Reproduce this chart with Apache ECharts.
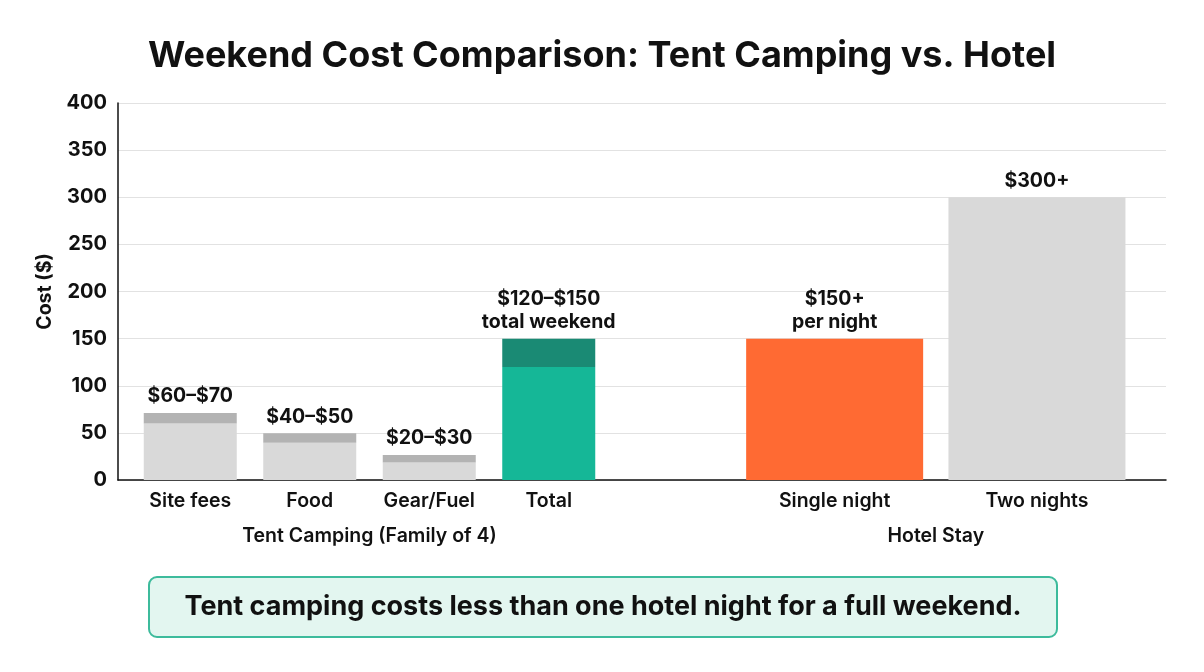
<!DOCTYPE html>
<html>
<head>
<meta charset="utf-8">
<script src="https://cdn.jsdelivr.net/npm/echarts@6/dist/echarts.min.js"></script>
<style>
  html, body { margin: 0; padding: 0; background: #fff; }
  #main { width: 1204px; height: 672px; }
</style>
</head>
<body>
<div id="main"></div>
<script>
// camping pieces: low end of the range and top of the bar
var campCategories = ["Site fees", "Food", "Gear/Fuel", "Total"];
var campLow = [60, 39.5, 18.5, 120];
var campHigh = [71, 49.5, 26.5, 150];
var campLabels = ["$60–$70", "$40–$50", "$20–$30", "$120–$150\ntotal weekend"];

var hotelCategories = ["Single night", "Two nights"];
var hotelValues = [150, 300];
var hotelLabels = ["$150+\nper night", "$300+"];

var yTicks = [0, 50, 100, 150, 200, 250, 300, 350, 400];

var FONT = "Inter, 'Noto Sans', sans-serif";
var gray = "#d9d9d9", grayDark = "#b3b3b3";
var teal = "#15b797", tealDark = "#1a8a74";
var orange = "#ff6a33";

var campRange = campHigh.map(function (v, i) { return v - campLow[i]; });

var chart = echarts.init(document.getElementById("main"));

var yHidden = {
  type: "value", min: 0, max: 400, interval: 50,
  axisLine: { show: false }, axisTick: { show: false },
  axisLabel: { show: false }, splitLine: { show: false }
};

var catLabel = { margin: 11, fontFamily: FONT, fontSize: 19.5, fontWeight: 600, color: "#111" };
var groupName = { fontFamily: FONT, fontSize: 19.5, fontWeight: 600, color: "#111" };
var barLabel = {
  show: true, position: "top", distance: 5,
  fontFamily: FONT, fontSize: 19.5, fontWeight: 700, color: "#111", lineHeight: 23
};

chart.setOption({
  animation: false,
  backgroundColor: "#fff",
  title: {
    text: "Weekend Cost Comparison: Tent Camping vs. Hotel",
    left: "center", top: 33,
    textStyle: { fontFamily: FONT, fontSize: 36, fontWeight: 700, color: "#111" }
  },
  grid: [
    { left: 118, right: 38, top: 103, bottom: 192 },
    { left: 130.5, width: 478, top: 103, bottom: 192 },
    { left: 733.5, width: 404.6, top: 103, bottom: 192 }
  ],
  xAxis: [
    {
      gridIndex: 0, type: "value", min: 0, max: 1,
      axisLine: { show: true, lineStyle: { color: "#111", width: 1.5 } },
      axisTick: { show: false }, axisLabel: { show: false }, splitLine: { show: false }
    },
    {
      gridIndex: 1, type: "category", data: campCategories,
      axisLine: { show: false }, axisTick: { show: false },
      axisLabel: catLabel,
      name: "Tent Camping (Family of 4)", nameLocation: "middle", nameGap: 46,
      nameTextStyle: groupName
    },
    {
      gridIndex: 2, type: "category", data: hotelCategories,
      axisLine: { show: false }, axisTick: { show: false },
      axisLabel: catLabel,
      name: "Hotel Stay", nameLocation: "middle", nameGap: 46,
      nameTextStyle: groupName
    }
  ],
  yAxis: [
    {
      gridIndex: 0, type: "value", min: yTicks[0], max: yTicks[yTicks.length - 1], interval: 50,
      name: "Cost ($)", nameLocation: "middle", nameRotate: 90, nameGap: 62,
      nameTextStyle: { fontFamily: FONT, fontSize: 19.5, fontWeight: 700, color: "#111" },
      axisLine: { show: true, lineStyle: { color: "#111", width: 1.5 } },
      axisTick: { show: false },
      axisLabel: { margin: 11, fontFamily: FONT, fontSize: 20, fontWeight: 700, color: "#111" },
      splitLine: { show: true, lineStyle: { color: "#e2e2e2", width: 1 } }
    },
    Object.assign({ gridIndex: 1 }, yHidden),
    Object.assign({ gridIndex: 2 }, yHidden)
  ],
  series: [
    {
      type: "bar", xAxisIndex: 1, yAxisIndex: 1, stack: "camp", barWidth: 93,
      data: campLow.map(function (v, i) {
        return { value: v, itemStyle: { color: i === 3 ? teal : gray } };
      })
    },
    {
      type: "bar", xAxisIndex: 1, yAxisIndex: 1, stack: "camp", barWidth: 93,
      data: campRange.map(function (v, i) {
        return { value: v, itemStyle: { color: i === 3 ? tealDark : grayDark } };
      }),
      label: Object.assign({
        formatter: function (p) { return campLabels[p.dataIndex]; }
      }, barLabel)
    },
    {
      type: "bar", xAxisIndex: 2, yAxisIndex: 2, barWidth: 177,
      data: hotelValues.map(function (v, i) {
        return { value: v, itemStyle: { color: i === 0 ? orange : gray } };
      }),
      label: Object.assign({
        formatter: function (p) { return hotelLabels[p.dataIndex]; }
      }, barLabel)
    }
  ],
  graphic: [
    {
      type: "group", left: 148, top: 576,
      children: [
        {
          type: "rect", shape: { x: 0, y: 0, width: 908, height: 60, r: 8 },
          style: { fill: "#e3f6f0", stroke: "#3dbb9c", lineWidth: 2 }
        },
        {
          type: "text", x: 454, y: 30,
          style: {
            text: "Tent camping costs less than one hotel night for a full weekend.",
            fontFamily: FONT, fontSize: 27, fontWeight: 700, fill: "#111",
            align: "center", verticalAlign: "middle"
          }
        }
      ]
    }
  ]
});
</script>
</body>
</html>
